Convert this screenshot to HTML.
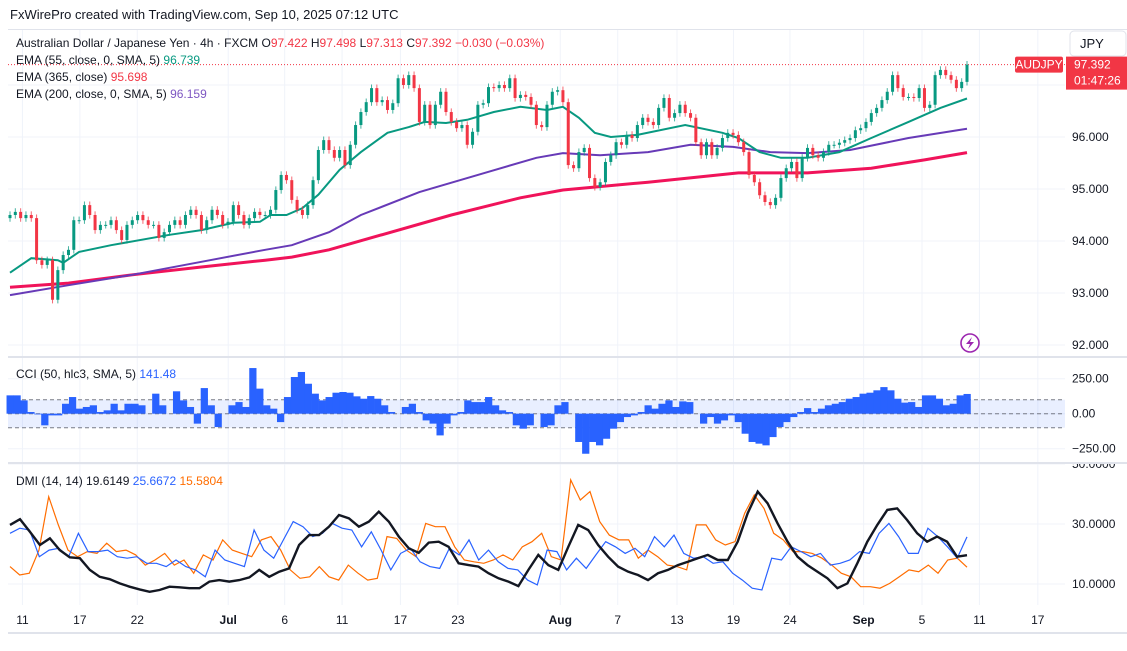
<!DOCTYPE html>
<html><head><meta charset="utf-8">
<style>
html,body{margin:0;padding:0;background:#fff;}
body{width:1127px;height:646px;overflow:hidden;font-family:"Liberation Sans",sans-serif;}
svg text{font-family:"Liberation Sans",sans-serif;}
</style></head>
<body>
<svg id="chart" width="1127" height="646" viewBox="0 0 1127 646" xmlns="http://www.w3.org/2000/svg">
<rect x="0" y="0" width="1127" height="646" fill="#ffffff"/>
<text x="10" y="19" font-size="13" fill="#131722">FxWirePro created with TradingView.com, Sep 10, 2025 07:12 UTC</text>
<rect x="8" y="29" width="1119" height="1" fill="#e0e3eb"/>
<g id="grid"></g>
<g id="panes"></g>
<g id="legend">
<text x="16" y="47" font-size="12" fill="#131722">Australian Dollar / Japanese Yen · 4h · FXCM <tspan fill="#131722">O</tspan><tspan fill="#f23645">97.422</tspan> <tspan>H</tspan><tspan fill="#f23645">97.498</tspan> <tspan>L</tspan><tspan fill="#f23645">97.313</tspan> <tspan>C</tspan><tspan fill="#f23645">97.392</tspan> <tspan fill="#f23645">−0.030 (−0.03%)</tspan></text>
<text x="16" y="64" font-size="12" fill="#131722">EMA (55, close, 0, SMA, 5) <tspan fill="#089981">96.739</tspan></text>
<text x="16" y="81" font-size="12" fill="#131722">EMA (365, close) <tspan fill="#f23645">95.698</tspan></text>
<text x="16" y="98" font-size="12" fill="#131722">EMA (200, close, 0, SMA, 5) <tspan fill="#7e57c2">96.159</tspan></text>
<text x="16" y="378" font-size="12" fill="#131722">CCI (50, hlc3, SMA, 5) <tspan fill="#2962ff">141.48</tspan></text>
<text x="16" y="485" font-size="12" fill="#131722">DMI (14, 14) <tspan fill="#131722">19.6149</tspan> <tspan fill="#2962ff">25.6672</tspan> <tspan fill="#ff6d00">15.5804</tspan></text>
</g>
<g>
<rect x="1070" y="31" width="56" height="25" rx="4" fill="#fff" stroke="#e0e3eb"/>
<text x="1080" y="48" font-size="13" fill="#131722">JPY</text>
</g>
<g>
<circle cx="970" cy="343" r="9" fill="#fff" stroke="#9c27b0" stroke-width="1.6"/>
<path d="M972 337 L966 344 L970 344 L968 349 L974 342 L970 342 Z" fill="#9c27b0"/>
</g>
</svg>
<script>
// ---- data ----
const closes = [94.50,94.56,94.44,94.50,94.44,93.63,93.54,93.63,92.87,93.44,
93.73,93.83,94.40,94.40,94.69,94.50,94.21,94.31,94.31,94.40,
94.21,94.02,94.31,94.40,94.50,94.40,94.31,94.31,94.06,94.17,
94.31,94.40,94.31,94.50,94.60,94.50,94.21,94.40,94.60,94.50,
94.31,94.37,94.69,94.50,94.31,94.44,94.56,94.50,94.50,94.60,
94.98,95.27,95.17,94.79,94.60,94.50,94.69,95.17,95.75,95.94,
95.75,95.60,95.75,95.46,95.85,96.23,96.48,96.67,96.94,96.67,
96.71,96.52,96.65,97.13,97.00,97.19,96.94,96.29,96.62,96.23,
96.62,96.87,96.48,96.29,96.17,96.23,95.85,96.10,96.62,96.65,
96.96,96.94,97.00,96.94,97.13,96.75,96.81,96.77,96.62,96.23,
96.19,96.62,96.87,96.90,96.67,95.46,95.40,95.71,95.79,95.21,
95.04,95.13,95.52,95.65,95.90,95.85,96.04,95.98,96.23,96.37,
96.29,96.23,96.56,96.75,96.37,96.46,96.62,96.46,96.37,95.90,
95.65,95.90,95.65,95.79,95.98,96.08,96.04,95.90,95.71,95.27,
95.13,94.88,94.75,94.69,94.83,95.21,95.40,95.52,95.21,95.60,
95.79,95.65,95.60,95.71,95.85,95.85,95.89,95.94,95.98,96.13,
96.17,96.29,96.46,96.56,96.71,96.87,97.19,96.94,96.77,96.77,
96.75,96.94,96.56,96.62,97.19,97.29,97.19,97.10,96.94,97.06,
97.392];
const firstOpen = 94.44;
const ema55Idx = [0,4,9,10,13,19,30,36,42,47,49,52,55,58,62,66,71,75,78,82,86,91,96,101,104,107,110,113,118,127,134,137,141,145,150,156,162,169,175,180];
const ema55Val = [93.39,93.67,93.63,93.58,93.79,93.92,94.12,94.21,94.35,94.37,94.50,94.50,94.63,94.89,95.37,95.71,96.08,96.19,96.29,96.27,96.33,96.48,96.58,96.52,96.58,96.37,96.08,96.00,96.04,96.23,96.08,95.98,95.71,95.60,95.60,95.71,95.98,96.29,96.56,96.74];
const ema200Idx = [0,11,23,36,48,53,60,66,77,90,99,104,111,120,128,136,143,150,158,169,180];
const ema200Val = [92.96,93.15,93.35,93.60,93.83,93.92,94.17,94.50,94.94,95.33,95.60,95.69,95.65,95.71,95.85,95.81,95.71,95.69,95.75,95.98,96.16];
const ema365Idx = [0,11,23,36,48,53,60,83,96,104,120,137,150,162,172,180];
const ema365Val = [93.11,93.19,93.35,93.50,93.63,93.69,93.83,94.50,94.83,94.98,95.13,95.31,95.31,95.40,95.56,95.70];
const cciVals = [131,131,95,12,-5,-83,-12,-12,71,119,36,48,60,12,24,71,24,71,71,60,0,143,60,0,160,95,48,-71,183,60,-95,0,60,83,48,326,179,60,36,-60,119,262,298,214,143,95,119,150,155,150,124,107,126,107,60,12,0,48,71,12,-48,-71,-155,-71,-12,12,95,83,83,119,60,24,12,-83,-107,-83,0,-95,-83,60,83,0,-202,-286,-202,-226,-179,-107,-60,-24,-12,12,60,36,71,95,48,88,83,0,-71,-24,-71,-48,-12,-60,-143,-202,-214,-226,-167,-95,-60,-24,12,40,12,36,60,71,83,107,119,143,150,167,190,167,107,79,83,48,131,131,107,60,71,131,141];
const adxVals = [29.7,31.6,27.4,23,25.2,21.3,18.9,18.6,14.7,12.4,11.6,10.2,9.1,8.2,7.4,8,9.1,8.9,8.6,8.6,10.8,11.3,10.8,11.3,12.2,14.7,12.4,14.1,15.2,23,26.3,26.3,29.1,33,31.9,29.1,30.8,34.1,30.8,25.8,21.9,20.4,23.8,24.1,22.4,16.9,16.3,15.8,13.6,11.9,10.8,9.3,14.7,19.7,16.3,14.7,22.4,29.7,28,23,19.1,15.8,14.1,13,11.3,13.6,14.7,16.3,17.4,18.6,19.7,18,18,24.1,33.6,40.8,36.9,30.2,24.1,19.1,16.3,14.1,11.9,8.6,10.2,16.9,24.1,29.7,34.7,35.2,31.3,26.9,24.1,25.8,24.1,19.1,19.6];
const plusDiVals = [26.9,28.6,28,19.1,21.3,21.9,19.1,26.9,20.8,20.8,21.3,19.1,18.6,19.1,16.9,16.9,15.8,18,15.8,14.7,12.4,21.3,18,16.9,15.8,28,21.3,18.6,24.7,30.8,29.1,25.8,26.9,30.2,28.6,28,22.4,27.4,21.3,14.7,20.2,21.9,17.4,15.8,15.2,21.9,19.7,24.7,18,21.3,17.4,15.2,14.7,11.3,9.7,21.3,20.8,14.7,18.6,15.2,19.7,24.1,22.4,20.2,21.9,19.1,25.8,22.4,26.3,20.2,18.6,19.1,16.9,17.4,13.6,11.3,8.6,8,18.6,18,22.4,20.8,19.1,20.2,16.3,16.9,18,20.8,20.2,26.9,30.2,25.8,20.2,20.2,28.6,25.8,22.4,18.6,25.7];
const minusDiVals = [15.8,13,13.6,21.3,39.1,29.7,21.3,19.1,20.8,20.2,23.6,20.8,21.3,19.7,16.3,18,20.2,16.3,18,13.6,19.7,18,24.7,21.3,20.2,19.1,24.7,25.8,21.3,14.7,11.9,12.4,15.8,12.4,11.3,16.3,13.6,11.3,11.9,25.8,25.2,21.3,19.1,30.2,29.1,29.1,22.4,18,17.4,16.9,18,19.7,18,22.4,24.1,26.9,19.1,18,44.7,38,40.8,30.8,26.3,24.7,24.7,18.6,21.3,19.1,16.3,15.8,14.7,29.7,29.7,24.7,23,24.1,33.6,39.7,35.2,26.9,24.7,20.8,20.8,20.2,18.6,16.3,13.6,12.4,9.1,9.1,8.6,10.2,12.4,14.7,14.1,16.3,13.6,18,18.6,15.6];
const priceTicks = [92,93,94,95,96,97];
const cciTicks = [250,0,-250];
const dmiTicks = [50,30,10];
const timeLabels = ["11","17","22","Jul","6","11","17","23","Aug","7","13","19","24","Sep","5","11","17"];
const timeLabelFrac = [0.013,0.073,0.133,0.228,0.287,0.347,0.408,0.468,0.575,0.635,0.697,0.756,0.815,0.892,0.953,1.013,1.074];

// ---- scales ----
const X0 = 10, X1 = 967, PLOT_R = 1065;
const yPrice = p => 137 - (p - 96) * 52;
const yCci = v => 413.7 - v * 0.14;
const yDmi = v => 524 - (v - 30) * 3;
const xBar = i => X0 + i * (X1 - X0) / (closes.length - 1);
const xSeries = (i, n) => X0 + i * (X1 - X0) / (n - 1);
const xTime = f => X0 + f * (X1 - X0);

const NS = "http://www.w3.org/2000/svg";
function mk(tag, attrs, parent) {
  const el = document.createElementNS(NS, tag);
  for (const k in attrs) el.setAttribute(k, attrs[k]);
  parent.appendChild(el);
  return el;
}
const grid = document.getElementById('grid');
const panes = document.getElementById('panes');

const bottom = mk('rect', {x: 8, y: 632, width: 1119, height: 2, fill: '#e0e3eb'}, grid);



timeLabels.forEach((lab, k) => {
  const x = xTime(timeLabelFrac[k]);
  const gl = mk('line', {x1: x, x2: x, y1: 30, y2: 605, stroke: '#f0f3fa', 'stroke-width': 1}, grid);
  
  
  const t = mk('text', {x: x, y: 624, 'font-size': 12, 'text-anchor': 'middle', fill: '#131722', 'font-weight': (lab === 'Jul' || lab === 'Aug' || lab === 'Sep') ? 'bold' : 'normal'}, grid);
  t.textContent = lab;
  
  
});

priceTicks.forEach(p => {
  const y = yPrice(p);
  const gl = mk('line', {x1: 8, x2: PLOT_R, y1: y, y2: y, stroke: '#f0f3fa'}, grid);
  
  
  const t = mk('text', {x: 1072, y: y + 4, 'font-size': 12, fill: '#131722'}, grid);
  t.textContent = p.toFixed(3);
  
  
});
cciTicks.forEach(v => {
  const y = yCci(v);
  const gl = mk('line', {x1: 8, x2: PLOT_R, y1: y, y2: y, stroke: '#f0f3fa'}, grid);
  
  
  const t = mk('text', {x: 1072, y: y + 4, 'font-size': 12, fill: '#131722'}, grid);
  t.textContent = (v < 0 ? '−' + Math.abs(v).toFixed(2) : v.toFixed(2));
  
  
});
dmiTicks.forEach(v => {
  const y = yDmi(v);
  const gl = mk('line', {x1: 8, x2: PLOT_R, y1: y, y2: y, stroke: '#f0f3fa'}, grid);
  
  
  const t = mk('text', {x: 1072, y: y + 4, 'font-size': 12, fill: '#131722'}, grid);
  t.textContent = v.toFixed(4);
  
  
});
// clip top DMI label under the separator
mk('rect', {x: 1066, y: 456, width: 61, height: 7, fill: '#fff'}, grid);

const sep1 = mk('rect', {x: 8, y: 356, width: 1119, height: 2, fill: '#e0e3eb'}, grid);


const sep2 = mk('rect', {x: 8, y: 462, width: 1119, height: 2, fill: '#e0e3eb'}, grid);



// ---- main pane ----
const lastY = yPrice(closes[closes.length - 1]);
const pl = mk('line', {x1: 8, x2: PLOT_R, y1: lastY, y2: lastY, stroke: '#f23645', 'stroke-dasharray': '1,2', 'stroke-width': 1}, panes);



function linePath(idxArr, valArr, yf, xf) {
  return valArr.map((v, k) => (k ? 'L' : 'M') + xf(idxArr[k]).toFixed(1) + ' ' + yf(v).toFixed(1)).join(' ');
}
const e365 = mk('path', {d: linePath(ema365Idx, ema365Val, yPrice, xBar), fill: 'none', stroke: '#f0135a', 'stroke-width': 3}, panes);


const e200 = mk('path', {d: linePath(ema200Idx, ema200Val, yPrice, xBar), fill: 'none', stroke: '#673ab7', 'stroke-width': 2}, panes);


const e55 = mk('path', {d: linePath(ema55Idx, ema55Val, yPrice, xBar), fill: 'none', stroke: '#089981', 'stroke-width': 2}, panes);



closes.forEach((c, i) => {
  const o = i ? closes[i - 1] : firstOpen;
  const up = c >= o;
  const col = up ? '#089981' : '#f23645';
  const x = xBar(i);
  const hi = Math.max(o, c) + 0.07, lo = Math.min(o, c) - 0.07;
  const w = mk('line', {x1: x, x2: x, y1: yPrice(hi), y2: yPrice(lo), stroke: col, 'stroke-width': 1, opacity: 0.75}, panes);
  
  
  const top = yPrice(Math.max(o, c)), bot = yPrice(Math.min(o, c));
  const b = mk('rect', {x: x - 1.5, y: top, width: 3, height: Math.max(1, bot - top), fill: col}, panes);
  
  
});

const tag1 = mk('rect', {x: 1015, y: lastY - 8, width: 48, height: 16, rx: 2, fill: '#f23645'}, panes);


const tt1 = mk('text', {x: 1039, y: lastY + 4, 'font-size': 12, fill: '#fff', 'text-anchor': 'middle'}, panes);
tt1.textContent = 'AUDJPY';


const tag2 = mk('rect', {x: 1066, y: lastY - 8, width: 61, height: 33, fill: '#f23645'}, panes);


const tt2 = mk('text', {x: 1074, y: lastY + 4, 'font-size': 12, fill: '#fff'}, panes);
tt2.textContent = closes[closes.length - 1].toFixed(3);


const tt3 = mk('text', {x: 1074, y: lastY + 20, 'font-size': 12, fill: '#fff'}, panes);
tt3.textContent = '01:47:26';



// ---- CCI pane ----
const band = mk('rect', {x: 8, y: yCci(100), width: PLOT_R - 8, height: yCci(-100) - yCci(100), fill: '#2962ff', 'fill-opacity': 0.1}, panes);


[100, 0, -100].forEach(v => {
  const l = mk('line', {x1: 8, x2: PLOT_R, y1: yCci(v), y2: yCci(v), stroke: '#787b86', 'stroke-dasharray': '4,3', 'stroke-width': 1}, panes);
  
  
});
const cw = (X1 - X0) / (cciVals.length - 1);
cciVals.forEach((v, i) => {
  const x = xSeries(i, cciVals.length);
  const y0 = yCci(0), y1 = yCci(v);
  const r = mk('rect', {x: x - cw / 2, y: Math.min(y0, y1), width: cw + 0.3, height: Math.abs(y1 - y0), fill: '#2962ff'}, panes);
  
  
});

// ---- DMI pane ----
function seriesPath(vals) {
  return vals.map((v, k) => (k ? 'L' : 'M') + xSeries(k, vals.length).toFixed(1) + ' ' + yDmi(v).toFixed(1)).join(' ');
}
const mdi = mk('path', {d: seriesPath(minusDiVals), fill: 'none', stroke: '#ff6d00', 'stroke-width': 1.2}, panes);


const pdi = mk('path', {d: seriesPath(plusDiVals), fill: 'none', stroke: '#2962ff', 'stroke-width': 1.2}, panes);


const adx = mk('path', {d: seriesPath(adxVals), fill: 'none', stroke: '#131722', 'stroke-width': 2.4}, panes);


</script>
</body></html>
